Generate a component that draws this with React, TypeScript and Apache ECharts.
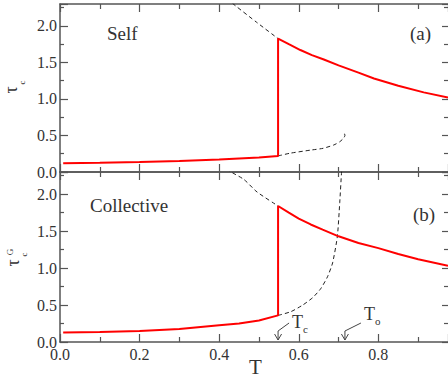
import React, { useEffect, useRef } from "react";
import * as echarts from "echarts";

// ---- data ----
const xTicks = [0, 0.2, 0.4, 0.6, 0.8];
const yTicks = [0, 0.5, 1.0, 1.5, 2.0];

const selfRedT = [0.008, 0.1, 0.2, 0.3, 0.4, 0.5, 0.548, 0.548, 0.575, 0.604, 0.633, 0.663, 0.7, 0.75, 0.789, 0.85, 0.914, 0.975];
const selfRedTau = [0.119, 0.127, 0.137, 0.152, 0.172, 0.2, 0.22, 1.826, 1.75, 1.67, 1.6, 1.54, 1.46, 1.36, 1.28, 1.18, 1.09, 1.02];

const selfDashUpT = [0.42, 0.44, 0.494, 0.548];
const selfDashUpTau = [2.37, 2.28, 2.05, 1.826];

const selfDashLowT = [0.548, 0.578, 0.63, 0.661, 0.688, 0.703, 0.712, 0.716, 0.715, 0.712];
const selfDashLowTau = [0.22, 0.257, 0.3, 0.324, 0.37, 0.414, 0.46, 0.5, 0.52, 0.515];

const collRedT = [0.008, 0.1, 0.2, 0.3, 0.4, 0.45, 0.5, 0.548, 0.548, 0.575, 0.6, 0.63, 0.66, 0.7, 0.75, 0.8, 0.85, 0.9, 0.975];
const collRedTau = [0.128, 0.135, 0.15, 0.175, 0.225, 0.25, 0.29, 0.36, 1.84, 1.75, 1.67, 1.59, 1.52, 1.43, 1.34, 1.27, 1.19, 1.12, 1.03];

const collDashUpT = [0.42, 0.427, 0.462, 0.495, 0.548];
const collDashUpTau = [2.35, 2.31, 2.2, 2.03, 1.84];

const collDashLowT = [0.548, 0.58, 0.61, 0.635, 0.655, 0.672, 0.685, 0.697, 0.703, 0.7075, 0.709];
const collDashLowTau = [0.36, 0.41, 0.5, 0.6, 0.72, 0.88, 1.07, 1.43, 1.89, 2.3, 2.4];

const Tc = 0.548;
const To = 0.716;

const zip = (a: number[], b: number[]) => a.map((v, i) => [v, b[i]]);

const FONT = "Liberation Serif";
const TXT = "#333";
const AX = "#555";

function xAxisDef(gridIndex: number, position: "top" | "bottom", labels: boolean) {
  return {
    type: "value",
    gridIndex,
    position,
    min: 0,
    max: 0.975,
    interval: 0.2,
    axisLine: { show: true, onZero: false, lineStyle: { color: AX, width: 1.5 } },
    axisTick: { show: true, inside: true, length: 8, lineStyle: { color: AX, width: 1.2 } },
    minorTick: { show: true, splitNumber: 2, length: 5, lineStyle: { color: AX, width: 1.2 } },
    splitLine: { show: false },
    axisLabel: {
      show: labels,
      showMaxLabel: false,
      margin: 4,
      color: TXT,
      fontFamily: FONT,
      fontSize: 16,
      formatter: (v: number) => (xTicks.some((t) => Math.abs(t - v) < 1e-6) ? v.toFixed(1) : ""),
    },
  };
}

function yAxisDef(gridIndex: number, position: "left" | "right", labels: boolean) {
  return {
    type: "value",
    gridIndex,
    position,
    min: 0,
    max: 2.3,
    interval: 0.5,
    axisLine: { show: position === "left", onZero: false, lineStyle: { color: AX, width: 1.5 } },
    axisTick: { show: true, inside: true, length: position === "left" ? 8 : 6, lineStyle: { color: AX, width: 1.2 } },
    minorTick: { show: true, splitNumber: 2, length: 4, lineStyle: { color: AX, width: 1.2 } },
    splitLine: { show: false },
    axisLabel: {
      show: labels,
      showMaxLabel: false,
      margin: 3,
      color: TXT,
      fontFamily: FONT,
      fontSize: 16,
      formatter: (v: number) => (yTicks.some((t) => Math.abs(t - v) < 1e-6) ? v.toFixed(1) : ""),
    },
  };
}

function lineSeries(xi: number, yi: number, data: number[][], kind: "red" | "dash") {
  return {
    type: "line",
    xAxisIndex: xi,
    yAxisIndex: yi,
    data,
    showSymbol: false,
    symbol: "none",
    smooth: kind === "dash" ? 0.2 : false,
    clip: true,
    lineStyle:
      kind === "red"
        ? { color: "#ff0000", width: 2 }
        : { color: "#222", width: 1, type: [4, 3] },
    z: kind === "red" ? 3 : 2,
  };
}

function label(text: string, x: number, y: number, size = 19) {
  return {
    type: "text",
    x,
    y,
    style: { text, font: `${size}px "${FONT}"`, fill: TXT, align: "left", verticalAlign: "middle" },
    z: 10,
  };
}

export default function App() {
  const ref = useRef<HTMLDivElement>(null);
  useEffect(() => {
    if (!ref.current) return;
    const chart = echarts.init(ref.current, null, { renderer: "svg" });
    chart.setOption({
      animation: false,
      backgroundColor: "#fff",
      textStyle: { fontFamily: FONT },
      grid: [
        { left: 60, top: 4, width: 388, height: 168 },
        { left: 60, top: 172, width: 388, height: 170 },
      ],
      xAxis: [
        xAxisDef(0, "bottom", false),
        xAxisDef(0, "top", false),
        xAxisDef(1, "bottom", true),
        xAxisDef(1, "top", false),
      ],
      yAxis: [
        yAxisDef(0, "left", true),
        yAxisDef(0, "right", false),
        yAxisDef(1, "left", true),
        yAxisDef(1, "right", false),
      ],
      series: [
        lineSeries(0, 0, zip(selfDashUpT, selfDashUpTau), "dash"),
        lineSeries(0, 0, zip(selfDashLowT, selfDashLowTau), "dash"),
        lineSeries(0, 0, zip(selfRedT, selfRedTau), "red"),
        lineSeries(2, 2, zip(collDashUpT, collDashUpTau), "dash"),
        lineSeries(2, 2, zip(collDashLowT, collDashLowTau), "dash"),
        lineSeries(2, 2, zip(collRedT, collRedTau), "red"),
      ],
    });

    const pTc = chart.convertToPixel({ gridIndex: 1 }, [Tc, 0]) as number[];
    const pTo = chart.convertToPixel({ gridIndex: 1 }, [To, 0]) as number[];

    const arrow = (tip: number[], dx: number, dy: number) => {
      const tx = tip[0];
      const ty = tip[1] - 2;
      return [
        {
          type: "polyline",
          shape: { points: [[tx + dx, ty - 9 - dy], [tx, ty - 9], [tx, ty]] },
          style: { stroke: "#444", lineWidth: 1, fill: "none" },
          z: 10,
        },
        {
          type: "polyline",
          shape: { points: [[tx - 3.5, ty - 6], [tx, ty], [tx + 3.5, ty - 6]] },
          style: { stroke: "#444", lineWidth: 1, fill: "none" },
          z: 10,
        },
      ];
    };

    chart.setOption({
      graphic: [
        label("Self", 107, 33),
        label("(a)", 410, 33),
        label("Collective", 90, 205),
        label("(b)", 413, 214),
        {
          type: "text",
          x: 255.5,
          y: 367,
          style: { text: "T", font: `21px "${FONT}"`, fill: TXT, align: "center", verticalAlign: "middle" },
          z: 10,
        },
        // Tc label
        label("T", pTc[0] + 14, pTc[1] - 20, 18),
        label("c", pTc[0] + 25, pTc[1] - 13, 11),
        ...arrow(pTc, 11, 8),
        // To label
        label("T", pTo[0] + 19, pTo[1] - 28, 18),
        label("o", pTo[0] + 30, pTo[1] - 21, 11),
        ...arrow(pTo, 16, 8),
        // y-axis names
        {
          type: "group",
          x: 11,
          y: 90,
          rotation: Math.PI / 2,
          children: [
            { type: "text", x: 0, y: 0, style: { text: "τ", font: `18px "${FONT}"`, fill: TXT, align: "center", verticalAlign: "middle" } },
            { type: "text", x: 7.5, y: 11, style: { text: "c", font: `9px "${FONT}"`, fill: TXT, align: "center", verticalAlign: "middle" } },
          ],
        },
        {
          type: "group",
          x: 13,
          y: 263,
          rotation: Math.PI / 2,
          children: [
            { type: "text", x: 0, y: 0, style: { text: "τ", font: `18px "${FONT}"`, fill: TXT, align: "center", verticalAlign: "middle" } },
            { type: "text", x: 8.5, y: 11, style: { text: "c", font: `9px "${FONT}"`, fill: TXT, align: "center", verticalAlign: "middle" } },
            { type: "text", x: 11, y: -3, style: { text: "G", font: `9px "${FONT}"`, fill: TXT, align: "center", verticalAlign: "middle" } },
          ],
        },
      ],
    });

    return () => chart.dispose();
  }, []);
  return <div ref={ref} style={{ position: "absolute", left: 0, top: 0, width: 448, height: 380 }} />;
}
